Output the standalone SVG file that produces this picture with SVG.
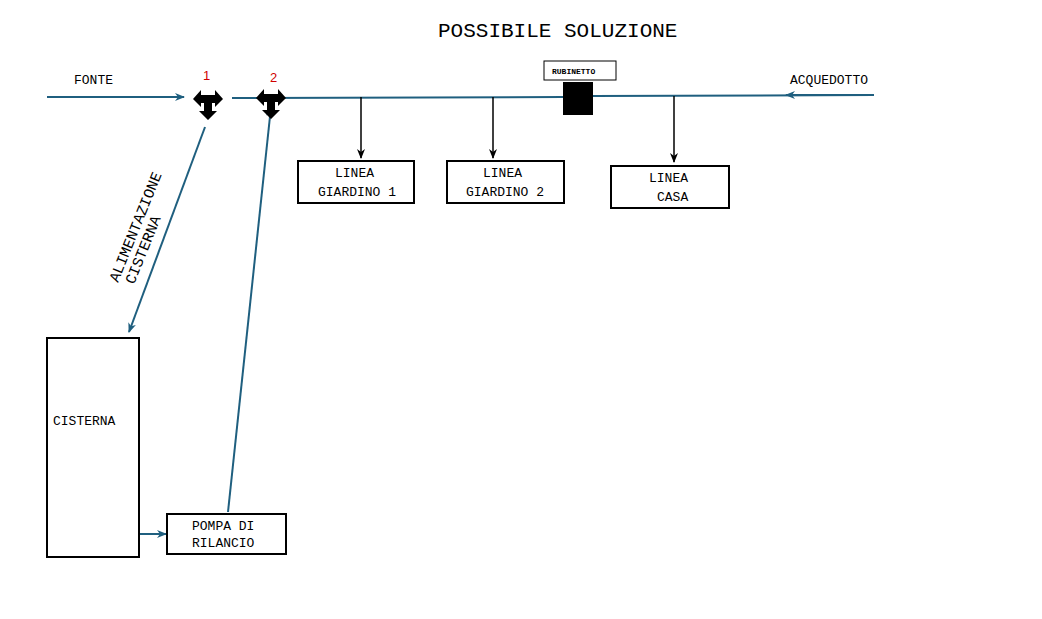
<svg xmlns="http://www.w3.org/2000/svg" width="1042" height="619" viewBox="0 0 1042 619">
<style>
text{font-family:"Liberation Mono",monospace;font-size:13px;fill:#000}
.box{fill:#fff;stroke:#000;stroke-width:2}
.pipe{stroke:#1f5f7f;stroke-width:2;fill:none}
.blk{stroke:#000;stroke-width:1.5;fill:none}
.num{fill:#d00000;font-family:"Liberation Sans",sans-serif;font-size:13px}
</style>
<defs>
<marker id="ab" markerWidth="10" markerHeight="8" refX="9" refY="4" orient="auto" markerUnits="userSpaceOnUse"><path d="M0,0 L10,4 L0,8 L3,4 z" fill="#1f5f7f"/></marker>
<marker id="ak" markerWidth="10" markerHeight="8" refX="9" refY="4" orient="auto" markerUnits="userSpaceOnUse"><path d="M0,0 L10,4 L0,8 L3,4 z" fill="#000"/></marker>
<path id="valve" d="M-15,0 L-7,-9 L-7,-4 L7,-4 L7,-9 L15,0 L7,8 L7,4 L4,4 L4,12 L9,12 L0,21 L-9,12 L-4,12 L-4,4 L-7,4 L-7,8 z" fill="#000"/>
</defs>
<rect width="1042" height="619" fill="#fff"/>
<text x="438" y="37" style="font-size:21px">POSSIBILE SOLUZIONE</text>
<g id="connectors">
<line class="pipe" x1="47" y1="97" x2="184" y2="97" marker-end="url(#ab)"/>
<line class="pipe" x1="232" y1="98" x2="563" y2="97"/>
<line class="pipe" x1="593" y1="96" x2="874" y2="95"/>
<line class="pipe" x1="874" y1="95" x2="786" y2="95" marker-end="url(#ab)"/>
<line class="pipe" x1="205" y1="127" x2="129" y2="332" marker-end="url(#ab)"/>
<line class="pipe" x1="228" y1="512" x2="271" y2="107" marker-end="url(#ab)"/>
<line class="pipe" x1="139" y1="534" x2="166" y2="534" marker-end="url(#ab)"/>
<line class="blk" x1="361" y1="97" x2="361" y2="158" marker-end="url(#ak)"/>
<line class="blk" x1="493" y1="97" x2="493" y2="158" marker-end="url(#ak)"/>
<line class="blk" x1="674" y1="96" x2="674" y2="162" marker-end="url(#ak)"/>
</g>
<g id="fonte"><text x="74" y="84">FONTE</text></g>
<g id="acquedotto"><text x="790" y="84">ACQUEDOTTO</text></g>
<g id="valve1"><use href="#valve" x="208" y="99"/><text class="num" x="203" y="80">1</text></g>
<g id="valve2"><use href="#valve" x="271" y="98"/><text class="num" x="270" y="82">2</text></g>
<g id="rubinetto"><rect x="544" y="61" width="72" height="19" class="box" style="stroke-width:1"/><text x="552" y="74" style="font-size:8px;font-weight:bold">RUBINETTO</text><rect x="563" y="82" width="30" height="33" fill="#000"/></g>
<g id="lg1"><rect class="box" x="298" y="161" width="116" height="42"/><text x="335" y="177">LINEA</text><text x="318" y="196">GIARDINO 1</text></g>
<g id="lg2"><rect class="box" x="447" y="161" width="117" height="42"/><text x="483" y="177">LINEA</text><text x="466" y="196">GIARDINO 2</text></g>
<g id="lc"><rect class="box" x="611" y="166" width="118" height="42"/><text x="649" y="182">LINEA</text><text x="657" y="201">CASA</text></g>
<g id="alim"><text transform="translate(118,283) rotate(-68)" style="font-size:15px">ALIMENTAZIONE</text><text transform="translate(134,285) rotate(-68)" style="font-size:15px">CISTERNA</text></g>
<g id="cisterna"><rect class="box" x="47" y="338" width="92" height="219"/><text x="53" y="425">CISTERNA</text></g>
<g id="pompa"><rect class="box" x="167" y="514" width="119" height="40"/><text x="192" y="530">POMPA DI</text><text x="192" y="547">RILANCIO</text></g>
</svg>
